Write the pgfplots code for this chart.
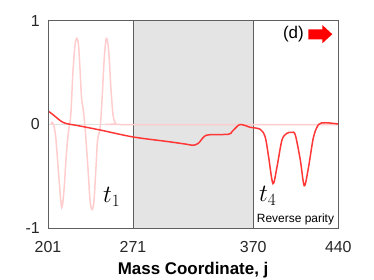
\documentclass[border=0pt]{standalone}
\usepackage{fontspec}
\setmainfont{Liberation Sans}
\usepackage{pgfplots}
\pgfplotsset{compat=1.18}
\definecolor{lred}{RGB}{255,55,55}
\definecolor{lpink}{RGB}{255,205,205}
\definecolor{bandgray}{RGB}{228,228,228}
\definecolor{axgray}{RGB}{95,95,95}
\begin{document}
\begin{tikzpicture}
\path[use as bounding box] (0bp,0bp) rectangle (374bp,280bp);
\begin{axis}[
  at={(48bp,51.7bp)}, anchor=south west,
  scale only axis, width=290.3bp, height=207.6bp,
  xmin=201, xmax=440, ymin=-1, ymax=1,
  xtick={201,271,370,440}, ytick={-1,0,1},
  major tick length=0pt,
  axis line style={axgray, line width=0.7bp},
  /pgf/number format/assume math mode=true,
  ticklabel style={font=\fontsize{16}{19}\selectfont, text=black!85},
  xticklabel style={anchor=base, yshift=-23.7bp},
  yticklabel style={anchor=east, inner sep=0pt, xshift=-8bp},
  xlabel={\textbf{Mass Coordinate, j}},
  xlabel style={font=\fontsize{17}{20}\selectfont, at={(axis description cs:0.5,0)}, anchor=base, yshift=-46.4bp},
  axis on top,
]
\fill[fill=bandgray] (axis cs:271,-1) rectangle (axis cs:370,1);
\draw[axgray, line width=0.7bp] (axis cs:271,-1) -- (axis cs:271,1);
\draw[axgray, line width=0.7bp] (axis cs:370,-1) -- (axis cs:370,1);
\draw[black!12, line width=0.6bp] (axis cs:201,0) -- (axis cs:440,0);
\addplot[lpink, line width=1.5bp, smooth, tension=0.5] coordinates {
(203.5,0) (204.3,0.02) (205.9,-0.01) (207.6,-0.15) (210.1,-0.53) (212.3,-0.80)
(214.2,-0.63) (215.8,-0.34) (217.5,-0.10) (219.1,0.02) (220,0.14) (221.6,0.52)
(223.3,0.77) (224.7,0.83) (226.1,0.77) (227.4,0.52) (228.6,0.26) (229.8,0.16)
(231.5,-0.03) (234,-0.44) (235.6,-0.73) (237.3,-0.82) (238.9,-0.73) (240.6,-0.39)
(241.8,-0.15) (243.9,-0.03) (245.5,0.24) (247.2,0.62) (249,0.83) (250.9,0.72)
(252.9,0.33) (254.6,0.09) (256.6,0.01) (260,0) (440,0)
};
\addplot[lred, line width=1.5bp, smooth, tension=0.5] coordinates {
(201,0.13) (204,0.105) (208.4,0.063) (212,0.03) (215.8,0.01) (227.4,-0.015)
(243.9,-0.053) (271,-0.12) (300,-0.165) (315,-0.19) (320.7,-0.2) (324.9,-0.18)
(329,-0.123) (333.1,-0.1) (349.6,-0.094) (352.4,-0.07) (356.5,-0.02) (359.2,0)
(363.4,-0.01) (367.5,-0.027) (375.7,-0.046) (379.8,-0.12) (382.6,-0.31)
(386.2,-0.57) (389.5,-0.41) (393.6,-0.15) (397.7,-0.085) (401.8,-0.075)
(404.6,-0.10) (408.7,-0.34) (412,-0.59) (415.5,-0.41) (419.6,-0.12)
(423.8,0) (429.3,0.017) (440,0.005)
};
\end{axis}
\node[anchor=east, inner sep=0pt, font=\fontsize{17}{20}\selectfont] at (304bp,246bp) {(d)};
\fill[red] (308.3bp,250.7bp) -- (322.3bp,250.7bp) -- (322.3bp,255bp) -- (332.3bp,245.8bp)
  -- (322.3bp,236.7bp) -- (322.3bp,240.7bp) -- (308.3bp,240.7bp) -- cycle;
\node[anchor=base west, inner sep=0pt, font=\fontsize{26}{30}\selectfont] at (103bp,77bp) {$t_1$};
\node[anchor=base west, inner sep=0pt, font=\fontsize{26}{30}\selectfont] at (259bp,78.3bp) {$t_4$};
\node[anchor=center, inner sep=0pt, font=\fontsize{12}{14}\selectfont] at (295.5bp,61bp) {Reverse parity};
\end{tikzpicture}
\end{document}
